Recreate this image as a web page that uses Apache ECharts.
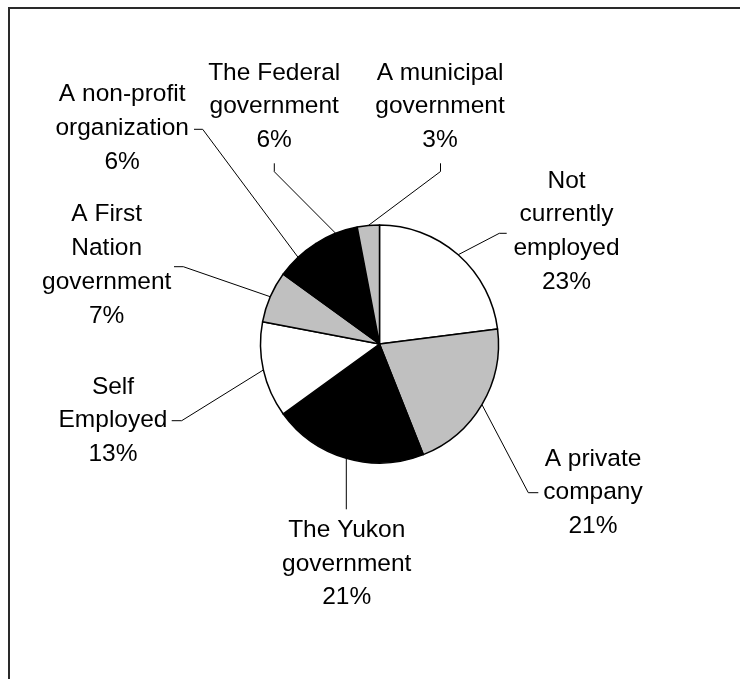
<!DOCTYPE html>
<html>
<head>
<meta charset="utf-8">
<script src="https://cdn.jsdelivr.net/npm/echarts@6/dist/echarts.min.js"></script>
<style>
html,body{margin:0;padding:0;background:#fff;}
#chart{width:740px;height:679px;}
</style>
</head>
<body>
<div id="chart"></div>
<script>
// Data
var categories = [
  'Not\ncurrently\nemployed',
  'A private\ncompany',
  'The Yukon\ngovernment',
  'Self\nEmployed',
  'A First\nNation\ngovernment',
  'A non-profit\norganization',
  'The Federal\ngovernment',
  'A municipal\ngovernment'
];
var values = [23, 21, 21, 13, 7, 6, 6, 3];
var sliceColors = ['#ffffff', '#c0c0c0', '#000000', '#ffffff', '#c0c0c0', '#000000', '#000000', '#c0c0c0'];

// Label layout (positions only): block centre and leader-line elbow points
var labelPos = [
  {x: 566.5, y: 231.4, line: [[499.3, 233.3], [506.7, 233.3]]},
  {x: 593,   y: 492.5, line: [[528.3, 492.7], [538.3, 492.7]]},
  {x: 346.7, y: 564,   line: [[null, 509.3]]},
  {x: 113,   y: 420.5, line: [[181.7, 420.7], [171.7, 420.7]]},
  {x: 106.7, y: 265.2, line: [[183.3, 266.7], [174, 266.7]]},
  {x: 122.2, y: 128.2, line: [[202.7, 129.3], [194, 129.3]]},
  {x: 274.2, y: 106.5, line: [[274.3, 171.7], [274.3, 163.3]]},
  {x: 440,   y: 106.5, line: [[440.5, 171.5], [440.5, 163.3]]}
];

var data = categories.map(function (c, i) {
  return {name: c, value: values[i], itemStyle: {color: sliceColors[i]}};
});

var chart = echarts.init(document.getElementById('chart'), null, {renderer: 'canvas'});
chart.setOption({
  backgroundColor: '#ffffff',
  animation: false,
  graphic: [{
    type: 'rect',
    shape: {x: 9, y: 8, width: 1000, height: 1000},
    style: {fill: 'none', stroke: '#2a2a2a', lineWidth: 2},
    silent: true
  }],
  series: [{
    type: 'pie',
    center: [379.5, 344],
    radius: [0, 119],
    startAngle: 90,
    clockwise: true,
    avoidLabelOverlap: false,
    data: data,
    itemStyle: {borderColor: '#000000', borderWidth: 1.5},
    emphasis: {disabled: true},
    label: {
      show: true,
      position: 'outside',
      formatter: function (p) { return p.name + '\n' + p.value + '%'; },
      fontFamily: 'Liberation Sans, Arial, sans-serif',
      fontSize: 24.5,
      lineHeight: 33.7,
      color: '#000000',
      align: 'center'
    },
    labelLine: {
      show: true,
      smooth: false,
      lineStyle: {color: '#000000', width: 1}
    },
    labelLayout: function (params) {
      var lp = labelPos[params.dataIndex];
      var p0 = params.labelLinePoints ? params.labelLinePoints[0] : null;
      var pts = [p0];
      lp.line.forEach(function (pt) {
        pts.push([pt[0] == null ? p0[0] : pt[0], pt[1]]);
      });
      if (pts.length === 2) pts.push(pts[1].slice());
      return {
        x: lp.x,
        y: lp.y,
        align: 'center',
        verticalAlign: 'middle',
        labelLinePoints: pts
      };
    }
  }]
});
</script>
</body>
</html>
